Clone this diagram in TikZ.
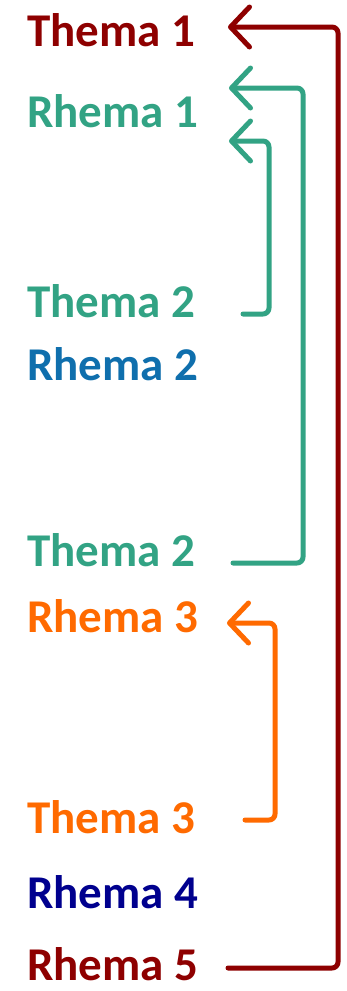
\documentclass[tikz,border=0pt]{standalone}
\usepackage{fontspec}
\setmainfont{Carlito}
\usetikzlibrary{arrows.meta}
\definecolor{cdred}{HTML}{8E0000}
\definecolor{cteal}{HTML}{32A384}
\definecolor{cblue}{HTML}{0F6FAD}
\definecolor{corange}{HTML}{FF6A00}
\definecolor{cnavy}{HTML}{00008E}
\tikzset{
  lbl/.style={anchor=base west, inner sep=0pt, font=\fontsize{47}{52}\selectfont\bfseries},
  link/.style={line width=5pt, line cap=round, line join=round, rounded corners=6pt,
    -{Straight Barb[length=19pt, width=40pt, line cap=round, line join=round]}}
}
\begin{document}
\begin{tikzpicture}[x=1pt, y=-1pt]
\useasboundingbox (0,0) rectangle (347,991);
\node[lbl, text=cdred]   (t1)  at (27,46)  {Thema 1};
\node[lbl, text=cteal]   (r1)  at (27,127) {Rhema 1};
\node[lbl, text=cteal]   (t2a) at (27,317) {Thema 2};
\node[lbl, text=cblue]   (r2)  at (27,380) {Rhema 2};
\node[lbl, text=cteal]   (t2b) at (27,566) {Thema 2};
\node[lbl, text=corange] (r3)  at (27,632) {Rhema 3};
\node[lbl, text=corange] (t3)  at (27,833) {Thema 3};
\node[lbl, text=cnavy]   (r4)  at (27,908) {Rhema 4};
\node[lbl, text=cdred]   (r5)  at (27,980) {Rhema 5};
% connector ends
\coordinate (r5s) at (228,968);
\coordinate (t1e) at (228,27);
\coordinate (t2bs) at (233,563);
\coordinate (r1e1) at (229,88);
\coordinate (t2as) at (243,314);
\coordinate (r1e2) at (229,141);
\coordinate (t3s) at (245,820);
\coordinate (r3e) at (227,623);
% corner columns
\coordinate (cred) at (338,500);
\coordinate (ctealo) at (303,300);
\coordinate (cteali) at (269,200);
\coordinate (corg) at (275,700);
\draw[link, cdred] (r5s) -| (cred) |- (t1e);
\draw[link, cteal] (t2bs) -| (ctealo) |- (r1e1);
\draw[link, cteal] (t2as) -| (cteali) |- (r1e2);
\draw[link, corange] (t3s) -| (corg) |- (r3e);
\end{tikzpicture}
\end{document}
